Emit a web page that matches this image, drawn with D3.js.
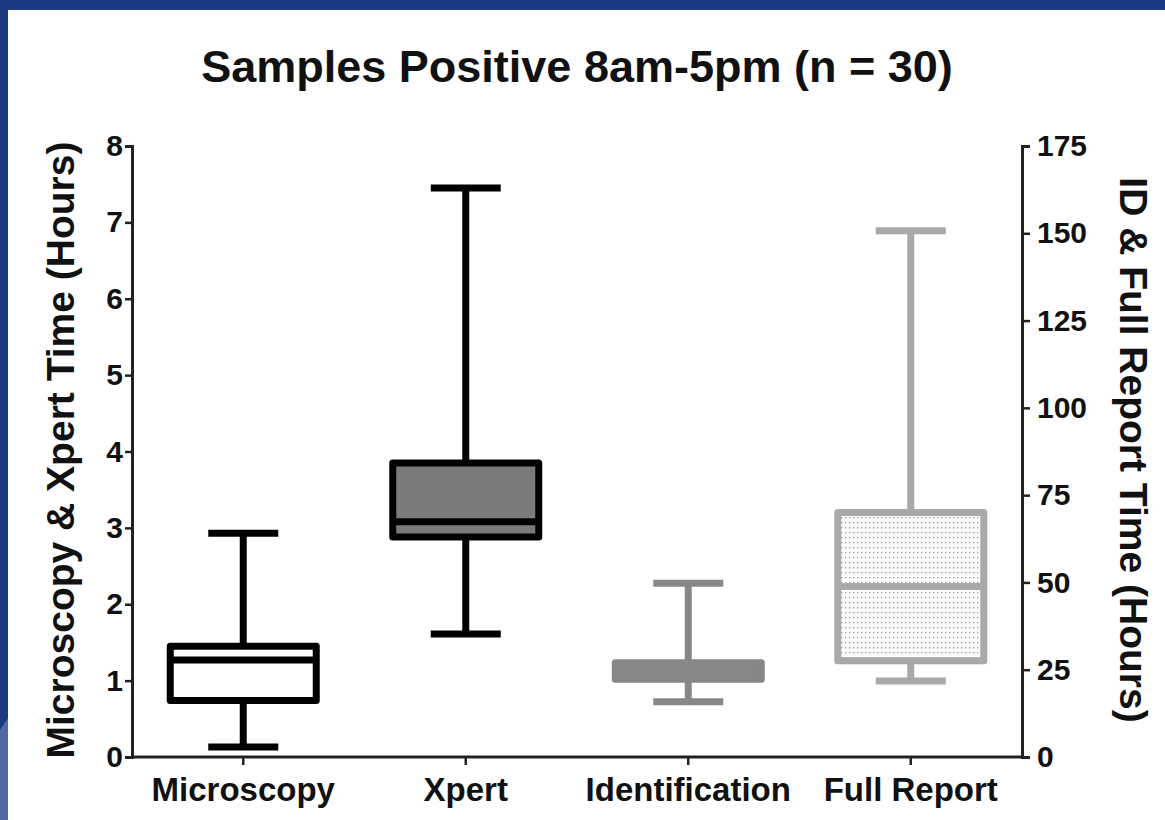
<!DOCTYPE html>
<html>
<head>
<meta charset="utf-8">
<script src="https://cdn.jsdelivr.net/npm/d3@7"></script>
<style>
  body { margin: 0; background: #fff; }
  svg { display: block; font-family: "Liberation Sans", Arial, sans-serif; }
</style>
</head>
<body>
<div id="chart"></div>
<script>
// data
const categories = ["Microscopy", "Xpert", "Identification", "Full Report"];
const side = ["left", "left", "right", "right"];
const mins    = [0.13, 1.61, 15.8, 21.8];
const q1s     = [0.74, 2.88, 22.3, 27.6];
const medians = [1.27, 3.08, 24.6, 48.8];
const q3s     = [1.45, 3.85, 27.0, 70.0];
const maxs    = [2.93, 7.45, 49.8, 150.7];
const leftTicks = [0, 1, 2, 3, 4, 5, 6, 7, 8];
const rightTicks = [0, 25, 50, 75, 100, 125, 150, 175];

const w = 1165, h = 820;
const x0 = 132, x1 = 1022, yTop = 146, yBot = 757;

const svg = d3.select("#chart").append("svg")
  .attr("width", w)
  .attr("height", h);

// blue frame
svg.append("rect").attr("x", 0).attr("y", 0).attr("width", w).attr("height", 10).attr("fill", "#1b3a83");
svg.append("rect").attr("x", 0).attr("y", 0).attr("width", 8).attr("height", h).attr("fill", "#1b3a83");
svg.append("path").attr("d", "M0,730 L8,718 L8,820 L0,820 Z").attr("fill", "#5068a8");

const defs = svg.append("defs");
const pat = defs.append("pattern")
  .attr("id", "dots")
  .attr("width", 4).attr("height", 5)
  .attr("patternUnits", "userSpaceOnUse");
pat.append("rect").attr("width", 4).attr("height", 5).attr("fill", "#fbfbfb");
pat.append("rect").attr("x", 1).attr("y", 2).attr("width", 1.3).attr("height", 1.3).attr("fill", "#9a9a9a");

const xScale = d3.scaleBand().domain(categories).range([x0, x1]);
const yLeft = d3.scaleLinear().domain([0, 8]).range([yBot, yTop]);
const yRight = d3.scaleLinear().domain([0, 175]).range([yBot, yTop]);

const strokes = ["#000", "#000", "#878787", "#a9a9a9"];
const fills = ["#fff", "#7b7b7b", "#878787", "url(#dots)"];

// title
svg.append("text")
  .attr("x", 577).attr("y", 82)
  .attr("text-anchor", "middle")
  .attr("font-size", 45).attr("font-weight", "bold")
  .attr("fill", "#111")
  .text("Samples Positive 8am-5pm (n = 30)");

// axes
const axisCol = "#222";
const gl = svg.append("g")
  .attr("transform", `translate(${x0},0)`)
  .call(d3.axisLeft(yLeft).tickValues(leftTicks).tickSize(7).tickPadding(2));
const gr = svg.append("g")
  .attr("transform", `translate(${x1},0)`)
  .call(d3.axisRight(yRight).tickValues(rightTicks).tickSize(8).tickPadding(7));
const gx = svg.append("g")
  .attr("transform", `translate(0,${yBot})`)
  .call(d3.axisBottom(xScale).tickSize(8).tickPadding(12));

[gl, gr, gx].forEach(g => {
  g.select(".domain").attr("stroke", axisCol).attr("stroke-width", 3);
  g.selectAll(".tick line").attr("stroke", axisCol).attr("stroke-width", 2.5);
  g.selectAll(".tick text")
    .attr("fill", "#111")
    .attr("font-family", "Liberation Sans, Arial, sans-serif")
    .attr("font-weight", "bold")
    .attr("font-size", 30);
});
gx.selectAll(".tick text").attr("font-size", 33).attr("dy", "0.72em");
gx.select(".domain").attr("d", `M${x0},0H${x1}`);

// axis titles
svg.append("text")
  .attr("transform", `translate(74,450) rotate(-90)`)
  .attr("text-anchor", "middle")
  .attr("font-size", 39).attr("font-weight", "bold").attr("fill", "#111")
  .text("Microscopy & Xpert Time (Hours)");
svg.append("text")
  .attr("transform", `translate(1120,450) rotate(90)`)
  .attr("text-anchor", "middle")
  .attr("font-size", 39).attr("font-weight", "bold").attr("fill", "#111")
  .text("ID & Full Report Time (Hours)");

// boxes
const boxW = 146, capW = 70, sw = 7;
const plot = svg.append("g");
categories.forEach((c, i) => {
  const y = side[i] === "left" ? yLeft : yRight;
  const cx = xScale(c) + xScale.bandwidth() / 2;
  const g = plot.append("g")
    .attr("stroke", strokes[i])
    .attr("stroke-width", sw);
  g.append("line")
    .attr("x1", cx).attr("x2", cx)
    .attr("y1", y(mins[i])).attr("y2", y(maxs[i]));
  g.append("line")
    .attr("x1", cx - capW / 2).attr("x2", cx + capW / 2)
    .attr("y1", y(mins[i])).attr("y2", y(mins[i]));
  g.append("line")
    .attr("x1", cx - capW / 2).attr("x2", cx + capW / 2)
    .attr("y1", y(maxs[i])).attr("y2", y(maxs[i]));
  g.append("rect")
    .attr("x", cx - boxW / 2)
    .attr("y", y(q3s[i]))
    .attr("width", boxW)
    .attr("height", y(q1s[i]) - y(q3s[i]))
    .attr("fill", fills[i])
    .attr("stroke-linejoin", "round");
  g.append("line")
    .attr("x1", cx - boxW / 2).attr("x2", cx + boxW / 2)
    .attr("y1", y(medians[i])).attr("y2", y(medians[i]));
});
</script>
</body>
</html>
